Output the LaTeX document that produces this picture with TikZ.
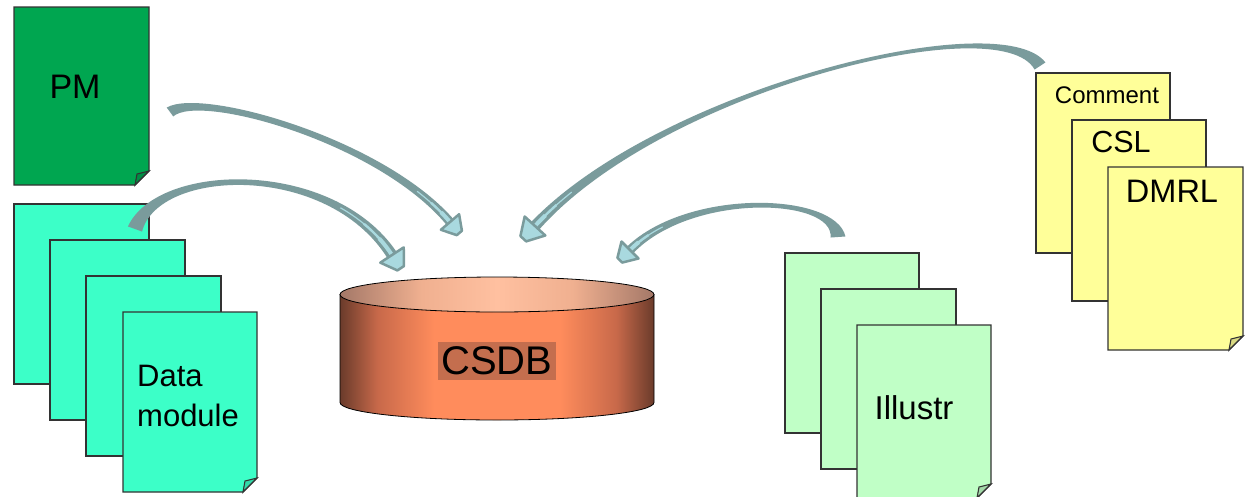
\documentclass[tikz,border=0pt]{standalone}
\usepackage{fontspec}
\setmainfont{Liberation Sans}
\usetikzlibrary{calc}
\definecolor{pmgreen}{HTML}{00A650}
\definecolor{dmcyan}{HTML}{3CFFC8}
\definecolor{yel}{HTML}{FFFF99}
\definecolor{ilg}{HTML}{C0FFC6}
\definecolor{arrowteal}{HTML}{7A9B9C}
\definecolor{arrowlight}{HTML}{A9D9DF}
\definecolor{be}{HTML}{6A3B2B}
\definecolor{bm}{HTML}{C8694A}
\definecolor{bo}{HTML}{FF8C5C}
\definecolor{te}{HTML}{A47868}
\definecolor{tmm}{HTML}{F0B090}
\definecolor{tm}{HTML}{FFC0A0}
\definecolor{hl}{HTML}{C46E4E}
\pgfdeclarehorizontalshading{cylbody}{100bp}{color(0bp)=(be); color(25bp)=(be); color(31bp)=(bm); color(40bp)=(bo); color(60bp)=(bo); color(69bp)=(bm); color(75bp)=(be); color(100bp)=(be)}
\pgfdeclarehorizontalshading{cyltop}{100bp}{color(0bp)=(te); color(25bp)=(te); color(38bp)=(tmm); color(50bp)=(tm); color(62bp)=(tmm); color(75bp)=(te); color(100bp)=(te)}
\newcommand{\plainsheet}[5]{\filldraw[sheetline, fill=#5] (#1,#2) rectangle (#3,#4);}
\newcommand{\foldsheet}[5]{%
  \filldraw[sheetline, fill=#5] (#1,#2) -- (#3,#2) -- (#3,#4-14) -- (#3-14,#4) -- (#1,#4) -- cycle;
  \filldraw[sheetline, fill=#5!85!black] (#3,#4-14) -- (#3-14,#4) -- (#3-12,#4-11) -- cycle;}
% #1 prefix, #2 tail half width, #3 middle half width, #4 end half width, #5 head half width, #6 head length, #7 streak radius
\newcommand{\bandarrow}[7]{%
  \fill[shaftcol] ($(#1s)!#2!90:(#1a)$) .. controls ($(#1a)!#3!90:(#1b)$) and ($(#1b)!#3!90:(#1e)$) .. ($(#1e)!#4!-90:(#1b)$)
     -- ($(#1e)!#4!90:(#1b)$) .. controls ($(#1b)!#3!-90:(#1e)$) and ($(#1a)!#3!-90:(#1b)$) .. ($(#1s)!#2!-90:(#1a)$) -- cycle;
  \begin{scope}
    \clip (#1e) circle [radius=#7];
    \draw[arrowlight, line width=1.2pt, line cap=round] (#1s) .. controls (#1a) and (#1b) .. (#1e);
  \end{scope}
  \begin{scope}
    \clip (#1e) circle [radius=0.6*#7];
    \draw[arrowlight, line width=2.4pt] (#1s) .. controls (#1a) and (#1b) .. (#1e);
  \end{scope}
  \begin{scope}
    \clip (#1e) circle [radius=0.3*#7];
    \draw[arrowlight, line width=4pt] (#1s) .. controls (#1a) and (#1b) .. (#1e);
  \end{scope}
  \coordinate (#1L) at ($(#1e)!#5!90:(#1b)$);
  \coordinate (#1R) at ($(#1e)!#5!-90:(#1b)$);
  \coordinate (#1T) at ($(#1e)!#6!180:(#1b)$);
  \filldraw[headcol] (#1L) -- ($(#1T)!0.28!(#1L)$) -- ($(#1T)!0.28!(#1R)$) -- (#1R) -- cycle;}
\begin{document}
\begin{tikzpicture}[x=1pt,y=-1pt,
  sheetline/.style={draw=black!80, line width=1.1pt, line join=miter},
  lbl/.style={inner sep=0pt, text=black},
  shaftcol/.style={fill=arrowteal},
  headcol/.style={fill=arrowlight, draw=arrowteal, line width=2.5pt, line join=round}]
\useasboundingbox (0,0) rectangle (1248,496);
\clip (0,0) rectangle (1248,496);
\fill[white] (0,0) rectangle (1248,496);

% PM
\foldsheet{14}{7}{149}{185}{pmgreen}
\node[lbl, font=\fontsize{34}{40}\selectfont] (pm) at (75,87) {PM};

% Data module stack
\plainsheet{14}{204}{149}{384}{dmcyan}
\plainsheet{50}{240}{185}{420}{dmcyan}
\plainsheet{86}{276}{221}{456}{dmcyan}
\foldsheet{123}{312}{257}{492}{dmcyan}
\node[lbl, anchor=west, align=left, font=\fontsize{31}{40}\selectfont] (dm) at (137,396) {Data\\module};

% Yellow stack
\plainsheet{1036}{73}{1170}{253}{yel}
\plainsheet{1072}{120}{1206}{301}{yel}
\foldsheet{1108}{167}{1243}{350}{yel}
\node[lbl, font=\fontsize{24}{28}\selectfont] (comment) at (1107,95) {Comment};
\node[lbl, font=\fontsize{30.5}{36}\selectfont] (csl) at (1121,142) {CSL};
\node[lbl, font=\fontsize{32.5}{38}\selectfont] (dmrl) at (1172,191) {DMRL};

% Illustr stack
\plainsheet{785}{253}{919}{433}{ilg}
\plainsheet{821}{289}{956}{469}{ilg}
\foldsheet{857}{325}{991}{498}{ilg}
\node[lbl, font=\fontsize{33}{38}\selectfont] (ill) at (914,408) {Illustr};

% CSDB cylinder
\shade[shading=cylbody, draw=black, line width=0.8pt] (340,294.5) -- (340,402.5)
   arc[start angle=180, end angle=360, x radius=157pt, y radius=17.5pt] -- (654,294.5) -- cycle;
\shade[shading=cyltop, draw=black, line width=0.8pt] (497,294.5) ellipse [x radius=157pt, y radius=17.5pt];
\node[fill=hl, inner xsep=3pt, inner ysep=5pt, text=black, font=\fontsize{40}{46}\selectfont] (csdb) at (497,361) {CSDB};

% arrows
\coordinate (a1s) at (170,112); \coordinate (a1a) at (200,90); \coordinate (a1b) at (380,140); \coordinate (a1e) at (450,222);
\coordinate (a2s) at (135,229); \coordinate (a2a) at (158,165); \coordinate (a2b) at (330,160); \coordinate (a2e) at (392,255);
\coordinate (a3s) at (1040,66); \coordinate (a3a) at (1000,5); \coordinate (a3b) at (660,90); \coordinate (a3e) at (535,226);
\coordinate (a4s) at (838,237); \coordinate (a4a) at (835,195); \coordinate (a4b) at (690,190); \coordinate (a4e) at (630,250);
\bandarrow{a1}{5.5pt}{3.1pt}{4.5pt}{12pt}{20pt}{45pt}
\bandarrow{a2}{7.5pt}{3.6pt}{5.5pt}{14pt}{22pt}{70pt}
\bandarrow{a3}{6.5pt}{1.6pt}{5.5pt}{14pt}{24pt}{50pt}
\bandarrow{a4}{7.5pt}{3pt}{4.5pt}{12pt}{20pt}{40pt}
\end{tikzpicture}
\end{document}
